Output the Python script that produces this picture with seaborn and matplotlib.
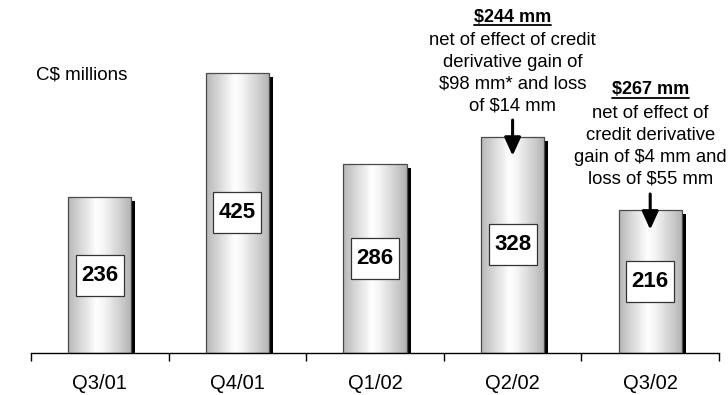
import numpy as np
import matplotlib
matplotlib.use("Agg")
import matplotlib.pyplot as plt
import seaborn as sns
from matplotlib.patches import Rectangle
from matplotlib.lines import Line2D
from matplotlib.colors import LinearSegmentedColormap

# Quarterly figures, C$ millions
quarters = ["Q3/01", "Q4/01", "Q1/02", "Q2/02", "Q3/02"]
income = [236, 425, 286, 328, 216]

# Call-outs above selected quarters
note_quarters = ["Q2/02", "Q3/02"]
note_heads = ["$244 mm", "$267 mm"]
note_bodies = [
    "net of effect of credit\nderivative gain of\n$98 mm* and loss\nof $14 mm",
    "net of effect of\ncredit derivative\ngain of $4 mm and\nloss of $55 mm",
]

sns.set_theme(style="white")
plt.rcParams["font.family"] = ["Liberation Sans", "DejaVu Sans"]

W, H = 728, 395
fig = plt.figure(figsize=(W / 100, H / 100), dpi=100)
fig.patch.set_facecolor("white")
ax = fig.add_axes([31 / W, 42 / H, 688 / W, 353 / H])
ax.set_facecolor("none")

sns.barplot(x=quarters, y=income, width=0.46, color="white",
            edgecolor="#4a4a4a", linewidth=0.9, ax=ax, zorder=3)

ax.set_xlim(-0.5, len(quarters) - 0.5)
ax.set_ylim(0, 535)

# pixel -> data conversion factors
px_x = (len(quarters)) / 688.0
px_y = 535 / 353.0

# cylindrical shading for each bar, plus a dark drop shadow on the right
shade = LinearSegmentedColormap.from_list(
    "cyl",
    [(0.0, "#b8b8b8"), (0.12, "#cbcbcb"), (0.45, "#ffffff"),
     (0.56, "#f6f6f6"), (0.85, "#cacaca"), (1.0, "#b2b2b2")])
grad = np.linspace(0, 1, 256).reshape(1, -1)
for bar in ax.patches:
    x0, w, h = bar.get_x(), bar.get_width(), bar.get_height()
    im = ax.imshow(grad, cmap=shade, aspect="auto",
                   extent=[x0, x0 + w, 0, h], zorder=2, interpolation="bicubic")
    im.set_clip_path(bar)
    bar.set_facecolor("none")
    ax.add_patch(Rectangle((x0 + w, 0), 4 * px_x, h - 4 * px_y,
                           facecolor="black", edgecolor="none", zorder=1))

# value boxes at mid-height
box_w, box_h = 48 * px_x, 41 * px_y
for i, v in enumerate(income):
    ax.add_patch(Rectangle((i - box_w / 2, v / 2 - box_h / 2), box_w, box_h,
                           facecolor="white", edgecolor="#333333", lw=0.9, zorder=4))
    ax.text(i, v / 2, f"{v}", ha="center", va="center", fontsize=16,
            fontweight="bold", color="black", zorder=5)

# axis styling
for s in ["left", "top", "right"]:
    ax.spines[s].set_visible(False)
ax.spines["bottom"].set_color("black")
ax.spines["bottom"].set_linewidth(1.0)
ax.set_yticks([])
ax.set_xticks(range(len(quarters)))
ax.set_xticklabels(quarters, fontsize=14.5, color="black")
ax.tick_params(axis="x", which="major", length=0, pad=15)
ax.set_xticks(np.arange(-0.5, len(quarters), 1.0), minor=True)
ax.tick_params(axis="x", which="minor", length=6, width=1, color="black",
               direction="out", bottom=True)
ax.set_xlabel("")
ax.set_ylabel("")

fig.text(36 / W, 1 - 75 / H, "C$ millions", fontsize=13.5, ha="left",
         va="center", color="black")

# call-outs with arrows
head_y = [17, 90]
body_y = [73.5, 146.5]
heads = []
for q, hd, bd, hy, by in zip(note_quarters, note_heads, note_bodies, head_y, body_y):
    i = quarters.index(q)
    v = income[i]
    xf = ax.transData.transform((i, 0))[0] / W
    heads.append(fig.text(xf, 1 - hy / H, hd, fontsize=13, fontweight="bold",
                          ha="center", va="center", color="black"))
    fig.text(xf, 1 - by / H, bd, fontsize=13.3, ha="center", va="center",
             multialignment="center", linespacing=1.38, color="black")
    ax.annotate("", xy=(i, v - 29), xytext=(i, v + 25),
                arrowprops=dict(arrowstyle="-|>,head_length=1.1,head_width=0.5",
                                mutation_scale=10, lw=2.2, color="black",
                                shrinkA=0, shrinkB=0),
                zorder=6, annotation_clip=False)

# underline the call-out headings
fig.canvas.draw()
rend = fig.canvas.get_renderer()
for t in heads:
    bb = t.get_window_extent(rend)
    yline = bb.y0 + 1
    fig.add_artist(Line2D([bb.x0 / W, bb.x1 / W], [yline / H, yline / H],
                          transform=fig.transFigure, color="black", lw=1.3))

fig.savefig("out.png", dpi=100)
